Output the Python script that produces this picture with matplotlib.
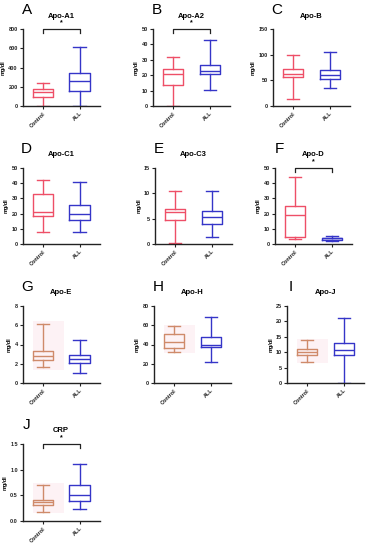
import matplotlib
matplotlib.use("Agg")
import matplotlib.pyplot as plt
from matplotlib.patches import Rectangle

# ---------------- data ----------------
letters = ["A", "B", "C", "D", "E", "F", "G", "H", "I", "J"]
titles = ["Apo-A1", "Apo-A2", "Apo-B", "Apo-C1", "Apo-C3", "Apo-D",
          "Apo-E", "Apo-H", "Apo-J", "CRP"]
groups = ["Control", "ALL"]
y_max = [800, 50, 150, 50, 15, 50, 8, 80, 25, 1.5]
y_step = [200, 10, 50, 10, 5, 10, 2, 20, 5, 0.5]
significant = [True, True, False, False, False, True, False, False, False, True]

ctrl_low = [0, 0, 13, 7.9, 0.26, 3.3, 1.67, 32.7, 6.85, 0.18]
ctrl_q1 = [95, 13.5, 55.7, 18.4, 4.8, 4.8, 2.37, 36.2, 9.2, 0.32]
ctrl_med = [150, 21.0, 62.2, 21.2, 6.3, 19.3, 2.78, 42.1, 10.0, 0.37]
ctrl_q3 = [180, 23.8, 71.4, 32.9, 7.0, 25.2, 3.3, 50.8, 11.1, 0.415]
ctrl_high = [234, 31.7, 99, 42.0, 10.4, 44.0, 6.16, 59.1, 13.9, 0.71]

all_low = [0, 10.3, 36, 7.7, 1.3, 2.0, 1.08, 21.6, 0, 0.235]
all_q1 = [158, 20.7, 51.7, 16.0, 3.95, 2.9, 2.09, 37.2, 9.2, 0.38]
all_med = [258, 22.9, 60.5, 20.0, 5.3, 3.7, 2.5, 40.0, 10.65, 0.5]
all_q3 = [338, 26.7, 70.7, 25.4, 6.55, 4.2, 2.96, 48.0, 12.9, 0.71]
all_high = [618, 42.8, 105, 40.5, 10.5, 5.5, 4.42, 68.5, 21.1, 1.11]

# ---------------- style ----------------
W, H = 366, 550
fig = plt.figure(figsize=(W / 100, H / 100), dpi=100)
plt.rcParams['font.family'] = ['Liberation Sans', 'DejaVu Sans']

red = "#ee4f67"
tan = "#cf8a6a"
blue = "#3535c8"
patch_col = "#fdf2f5"

row_top = [29, 168, 306, 444]
row_bot = [106, 244, 383, 521]
col_left = [[22.7, 153, 273], [22.7, 155, 275], [22.7, 154, 287], [22.7]]
ax_w = 77

for i in range(10):
    r, c = divmod(i, 3)
    left = col_left[r][c]
    top, bot = row_top[r], row_bot[r]
    ax = fig.add_axes([left / W, 1 - bot / H, ax_w / W, (bot - top) / H])
    ccol = red if r < 2 else tan
    stats = [
        dict(whislo=ctrl_low[i], q1=ctrl_q1[i], med=ctrl_med[i], q3=ctrl_q3[i],
             whishi=ctrl_high[i], fliers=[], label=groups[0]),
        dict(whislo=all_low[i], q1=all_q1[i], med=all_med[i], q3=all_q3[i],
             whishi=all_high[i], fliers=[], label=groups[1]),
    ]
    bp = ax.bxp(stats, positions=[1, 2], widths=0.55, capwidths=0.34,
                showfliers=False, patch_artist=False)
    for k, col in enumerate([ccol, blue]):
        bp['boxes'][k].set(color=col, linewidth=1.0)
        bp['medians'][k].set(color=col, linewidth=1.0)
        for w in bp['whiskers'][2 * k:2 * k + 2]:
            w.set(color=col, linewidth=1.0)
        for cp in bp['caps'][2 * k:2 * k + 2]:
            cp.set(color=col, linewidth=1.0)
    if r >= 2:
        span = ctrl_high[i] - ctrl_low[i]
        ax.add_patch(Rectangle((0.72, ctrl_low[i] - 0.06 * span), 0.85,
                               span * 1.12, facecolor=patch_col,
                               edgecolor='none', zorder=0))
    ax.set_xlim(0.45, 2.55)
    ax.set_ylim(0, y_max[i])
    n = int(round(y_max[i] / y_step[i]))
    ticks = [k * y_step[i] for k in range(n + 1)]
    ax.set_yticks(ticks)
    if i == 9:
        ax.set_yticklabels([f"{t:.1f}" for t in ticks])
    else:
        ax.set_yticklabels([f"{t:g}" for t in ticks])
    ax.set_xticks([1, 2])
    ax.set_xticklabels(groups, rotation=45, ha='right', rotation_mode='anchor')
    for s in ['top', 'right']:
        ax.spines[s].set_visible(False)
    for s in ['left', 'bottom']:
        ax.spines[s].set_linewidth(1.0)
        ax.spines[s].set_color('#222222')
    ax.tick_params(axis='both', labelsize=4, width=0.8, length=2.5, pad=1,
                   colors='#222222')
    for lab in ax.get_xticklabels() + ax.get_yticklabels():
        lab.set_fontweight('bold')
    ax.set_ylabel("mg/dl", fontsize=4, fontweight='bold', labelpad=2)
    ax.patch.set_alpha(0)

    # panel letter and title
    fig.text((left + 4) / W, 1 - (top - 19) / H, letters[i], fontsize=11,
             ha='center', va='center')
    fig.text((left + ax_w * 0.5) / W, 1 - (top - 13) / H, titles[i],
             fontsize=5.5, fontweight='bold', ha='center', va='center')

    if significant[i]:
        ym = y_max[i]
        ax.plot([1, 1, 2, 2], [ym * 0.95, ym, ym, ym * 0.95], color='#222222',
                linewidth=0.9, clip_on=False)
        ax.text(1.5, ym * 1.04, "*", ha='center', va='bottom', fontsize=5,
                fontweight='bold', clip_on=False)

fig.savefig("out.png", dpi=100)
